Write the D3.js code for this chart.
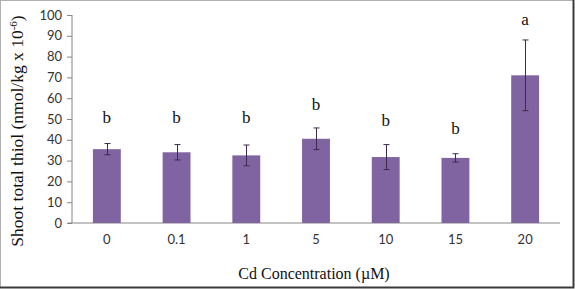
<!DOCTYPE html>
<html>
<head>
<meta charset="utf-8">
<script src="https://cdn.jsdelivr.net/npm/d3@7"></script>
<style>
  body { margin: 0; background: #fff; }
  .tick text { font-family: Lato, "Open Sans", sans-serif; font-size: 13px; fill: #333; }
  .serif { font-family: "Liberation Serif", "DejaVu Serif", serif; fill: #111; }
</style>
</head>
<body>
<svg id="chart" width="575" height="289"></svg>
<script>
// Data
const concentrations = ['0', '0.1', '1', '5', '10', '15', '20'];
const thiolMeans = [35.5, 34, 32.5, 40.5, 31.7, 31.3, 71];
const thiolErrors = [2.7, 3.7, 5, 5.2, 6, 2, 17];
const groupLetters = ['b', 'b', 'b', 'b', 'b', 'b', 'a'];
const letterLevels = [48, 48, 48, 54.3, 46.6, 42.8, 95]; // baseline of the letter, in axis units
const yTicks = [0, 10, 20, 30, 40, 50, 60, 70, 80, 90, 100];

const svg = d3.select('#chart');
const margin = { left: 72, right: 15, top: 15, bottom: 66 };
const width = 575 - margin.left - margin.right;
const height = 289 - margin.top - margin.bottom;

// frame around the whole chart
svg.append('rect')
  .attr('x', 0.5).attr('y', 0.5)
  .attr('width', 573).attr('height', 287)
  .attr('fill', 'none').attr('stroke', '#b0b0b0');
svg.append('path')
  .attr('d', 'M573.5,0 V287.5 H0')
  .attr('fill', 'none').attr('stroke', '#3a3a3a').attr('stroke-width', 2);

const g = svg.append('g').attr('transform', `translate(${margin.left},${margin.top})`);

const x = d3.scaleBand().domain(concentrations).range([0, width]).paddingInner(0.6).paddingOuter(0.3);
const y = d3.scaleLinear().domain([0, 100]).range([height, 0]);

// y axis
const yAxis = g.append('g')
  .call(d3.axisLeft(y).tickValues(yTicks).tickSize(5).tickPadding(5));
yAxis.select('.domain').attr('stroke', '#868686').attr('d', `M0,0 V${height}`);
yAxis.selectAll('.tick line').attr('stroke', '#868686');

// x axis
const xAxis = g.append('g')
  .attr('transform', `translate(0,${height})`)
  .call(d3.axisBottom(x).tickSize(0).tickPadding(12));
xAxis.select('.domain').attr('stroke', '#868686').attr('d', `M-4,0 H${width}`);

// bars
g.selectAll('.bar')
  .data(concentrations)
  .enter()
  .append('rect')
  .attr('class', 'bar')
  .attr('x', (d) => x(d))
  .attr('y', (d, i) => y(thiolMeans[i]))
  .attr('width', x.bandwidth())
  .attr('height', (d, i) => height - y(thiolMeans[i]))
  .attr('fill', '#8064a2');

// error bars
const err = g.selectAll('.err')
  .data(concentrations)
  .enter()
  .append('g')
  .attr('class', 'err')
  .attr('stroke', '#3b2a4d')
  .attr('stroke-width', 1);
const cx = (d) => Math.round(x(d) + x.bandwidth() / 2) + 0.5;
err.append('line')
  .attr('x1', cx).attr('x2', cx)
  .attr('y1', (d, i) => y(thiolMeans[i] + thiolErrors[i]))
  .attr('y2', (d, i) => y(thiolMeans[i] - thiolErrors[i]));
err.append('line')
  .attr('x1', (d) => cx(d) - 3).attr('x2', (d) => cx(d) + 3)
  .attr('y1', (d, i) => y(thiolMeans[i] + thiolErrors[i]))
  .attr('y2', (d, i) => y(thiolMeans[i] + thiolErrors[i]));
err.append('line')
  .attr('x1', (d) => cx(d) - 3).attr('x2', (d) => cx(d) + 3)
  .attr('y1', (d, i) => y(thiolMeans[i] - thiolErrors[i]))
  .attr('y2', (d, i) => y(thiolMeans[i] - thiolErrors[i]));

// significance letters
g.selectAll('.letter')
  .data(concentrations)
  .enter()
  .append('text')
  .attr('class', 'serif')
  .attr('x', (d) => x(d) + x.bandwidth() / 2)
  .attr('y', (d, i) => y(letterLevels[i]))
  .attr('text-anchor', 'middle')
  .attr('font-size', 17)
  .text((d, i) => groupLetters[i]);

// axis titles
svg.append('text')
  .attr('class', 'serif')
  .attr('x', margin.left + width / 2 - 2)
  .attr('y', 279)
  .attr('text-anchor', 'middle')
  .attr('font-size', 16)
  .text('Cd Concentration (µM)');

const yTitle = svg.append('text')
  .attr('class', 'serif')
  .attr('transform', 'translate(23,131) rotate(-90)')
  .attr('text-anchor', 'middle')
  .attr('font-size', 17.5);
yTitle.append('tspan').text('Shoot total thiol (nmol/kg x 10');
yTitle.append('tspan').attr('dy', -6).attr('font-size', 11).text('-6');
yTitle.append('tspan').attr('dy', 6).text(')');
</script>
</body>
</html>
